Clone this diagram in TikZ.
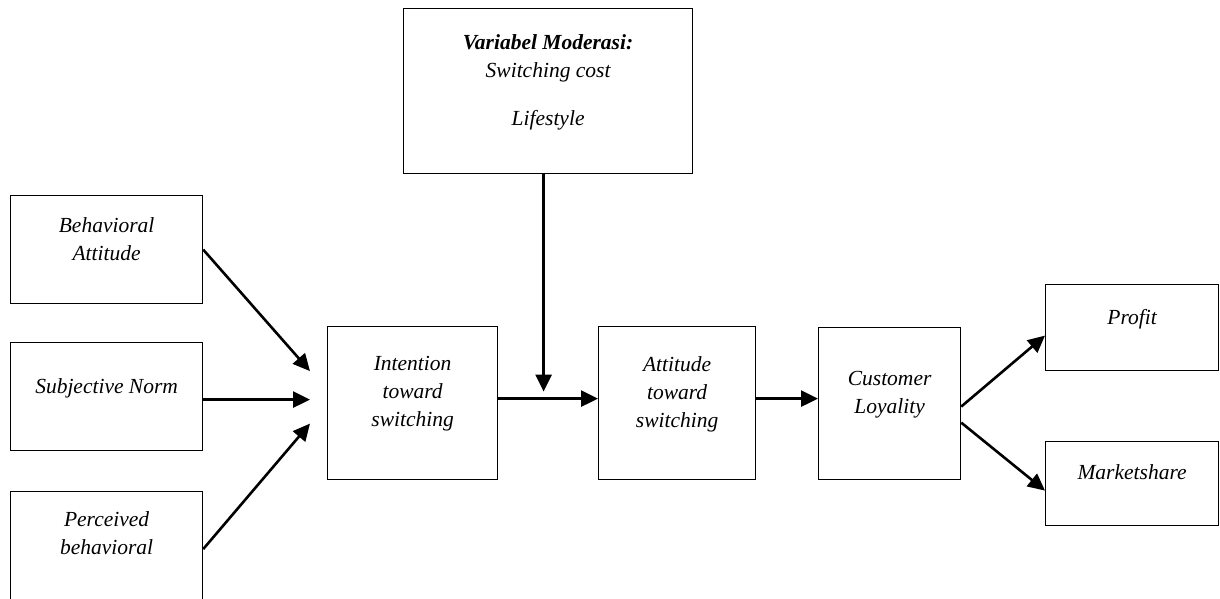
\documentclass[tikz,border=0pt]{standalone}
\usepackage{fontspec}
\setmainfont{Liberation Serif}
\usetikzlibrary{positioning,arrows.meta}
\begin{document}
\begin{tikzpicture}[x=1pt,y=-1pt]
  % Styles
  \tikzstyle{box}=[draw,line width=1.2pt,anchor=north west,inner sep=0pt]
  \tikzstyle{box text}=[align=center,inner sep=0pt,font=\fontsize{21.5}{28}\selectfont\itshape]
  \tikzstyle{link}=[line width=2.6pt,-{Triangle[length=17pt,width=16pt]}]

  \useasboundingbox (0,0) rectangle (1220,598);
  \clip (0,0) rectangle (1220,598);

  % The boxes
  \node[box,minimum width=289pt,minimum height=165pt] (mod) at (403,8) {};
  \node[box,minimum width=192pt,minimum height=108pt] (ba) at (10,195) {};
  \node[box,minimum width=192pt,minimum height=108pt] (sn) at (10,342) {};
  \node[box,minimum width=192pt,minimum height=115pt] (pb) at (10,491) {};
  \node[box,minimum width=170pt,minimum height=153pt] (it) at (327,326) {};
  \node[box,minimum width=157pt,minimum height=153pt] (at) at (598,326) {};
  \node[box,minimum width=142pt,minimum height=152pt] (cl) at (818,327) {};
  \node[box,minimum width=173pt,minimum height=86pt] (pr) at (1045,284) {};
  \node[box,minimum width=173pt,minimum height=84pt] (ms) at (1045,441) {};

  % The texts
  \node[box text,below=26pt of mod.north] (mod text)
    {\textbf{Variabel Moderasi:}\\Switching cost\\[20pt]Lifestyle};
  \node[box text,below=22pt of ba.north] (ba text) {Behavioral\\Attitude};
  \node[box text,below=36pt of sn.north] (sn text) {Subjective Norm};
  \node[box text,below=20pt of pb.north] (pb text) {Perceived\\behavioral};
  \node[box text,below=30pt of it.north] (it text) {Intention\\toward\\switching};
  \node[box text,below=30pt of at.north] (at text) {Attitude\\toward\\switching};
  \node[box text,below=44pt of cl.north] (cl text) {Customer\\Loyality};
  \node[box text,below=25pt of pr.north] (pr text) {Profit};
  \node[box text,below=23pt of ms.north] (ms text) {Marketshare};

  % The connectors
  \coordinate (sn out) at ([yshift=-3pt]sn.east);
  \coordinate (it out) at ([yshift=4.5pt]it.east);
  \coordinate (at out) at ([yshift=4.5pt]at.east);
  \coordinate (mod out) at ([xshift=-4.5pt]mod.south);

  \draw[link] (ba.east) -- ([xshift=-17pt,yshift=32pt]it.west);
  \draw[link,shorten >=17pt] (sn out) -- (sn out -| it.west);
  \draw[link] (pb.east) -- ([xshift=-17pt,yshift=-20.5pt]it.west);
  \draw[link] (it out) -- (it out -| at.west);
  \draw[link,shorten >=7pt] (mod out) -- (mod out |- it out);
  \draw[link] (at out) -- (at out -| cl.west);
  \draw[link] ([yshift=-3pt]cl.east) -- ([yshift=-8pt]pr.west);
  \draw[link] ([yshift=-19pt]cl.east) -- ([yshift=-7pt]ms.west);
\end{tikzpicture}
\end{document}
